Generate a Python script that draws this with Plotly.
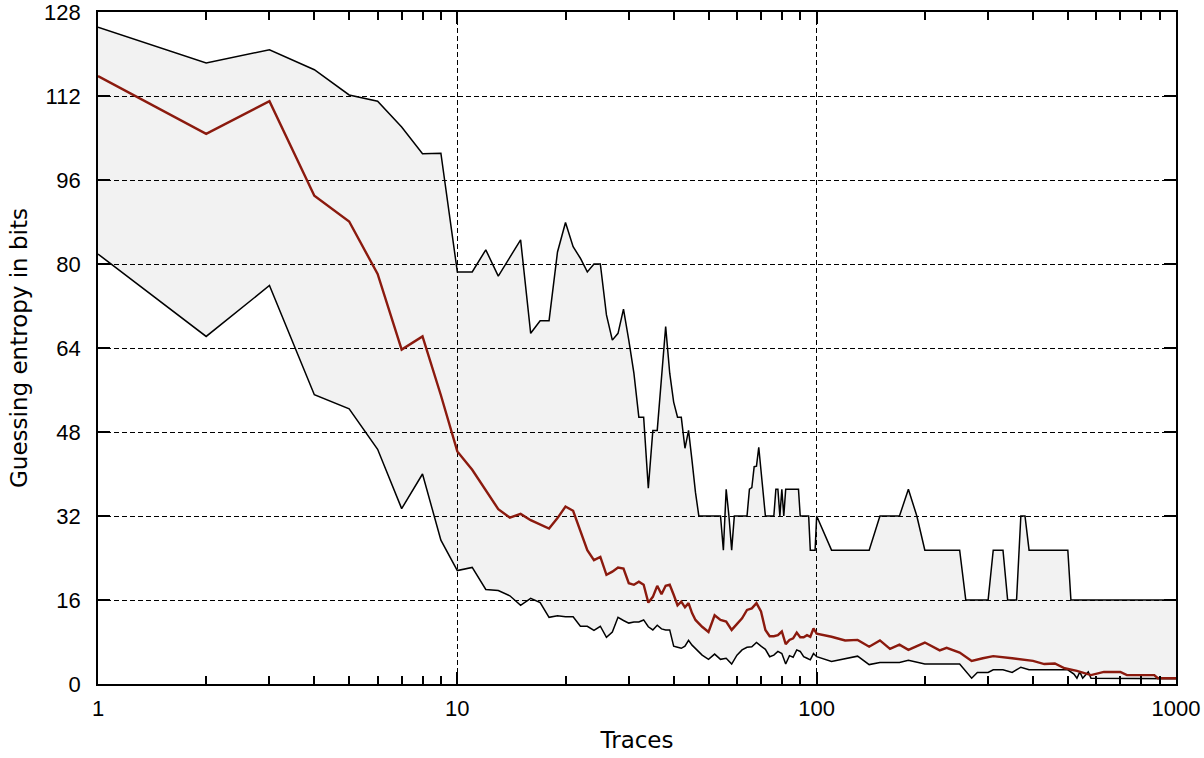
import plotly.graph_objects as go

# Guessing entropy (bits) vs. number of traces: upper bound, median, lower bound
upper_x = [1, 2, 3, 4, 5, 6, 7, 8, 9, 10, 11, 12, 13, 14, 15, 16, 17, 18, 19, 20,
           21, 22, 23, 24, 25, 26, 27, 28, 29, 30, 31, 32, 33, 34, 35, 36, 38, 39, 40, 41,
           42, 43, 44, 45, 46, 47, 54, 55, 56, 57, 58, 59, 64, 65, 66, 67, 68, 69, 70, 71,
           72, 76, 77, 78, 79, 80, 81, 82, 89, 90, 95, 96, 99, 100, 110, 140, 150, 170, 180, 190,
           200, 250, 260, 300, 310, 330, 340, 360, 370, 380, 390, 500, 510, 1000]
upper_y = [125.1, 118.3, 120.8, 117.0, 112.2, 111.0, 106.1, 101.0, 101.1, 78.5, 78.5, 82.7, 77.7, 81.3, 84.6, 66.8, 69.2, 69.2, 82.3, 87.9,
           83.3, 81.1, 78.5, 80.0, 80.0, 70.3, 65.5, 66.8, 71.4, 65.5, 59.2, 50.8, 50.8, 37.3, 48.3, 48.3, 68.1, 59.2, 53.7, 50.8,
           50.8, 44.9, 48.3, 42.5, 36.5, 32.0, 32.0, 25.5, 37.1, 32.0, 25.5, 32.0, 32.0, 37.1, 37.4, 41.4, 41.5, 45.1, 40.8, 35.7,
           32.0, 32.0, 37.1, 37.1, 32.0, 37.1, 32.0, 37.1, 37.1, 32.0, 32.0, 25.5, 25.5, 32.0, 25.5, 25.5, 32.0, 32.0, 37.1, 32.0,
           25.5, 25.5, 16.0, 16.0, 25.5, 25.5, 16.0, 16.0, 32.0, 32.0, 25.5, 25.5, 16.0, 16.0]

median_x = [1, 2, 3, 4, 5, 6, 7, 8, 9, 10, 11, 12, 13, 14, 15, 16, 17, 18, 19, 20,
            21, 22, 23, 24, 25, 26, 27, 28, 29, 30, 31, 32, 33, 34, 35, 36, 37, 38, 39, 40,
            41, 42, 43, 44, 45, 46, 48, 50, 52, 54, 56, 58, 60, 62, 64, 66, 68, 70, 72, 74,
            76, 78, 80, 82, 84, 86, 88, 90, 92, 94, 96, 98, 100, 110, 120, 130, 140, 150, 160, 170,
            180, 200, 220, 230, 250, 270, 290, 310, 350, 400, 430, 460, 490, 530, 580, 630, 700, 730, 870, 890,
            1000]
median_y = [115.8, 104.8, 111.0, 93.0, 88.1, 78.1, 63.7, 66.2, 55.0, 44.3, 40.8, 37.0, 33.3, 31.7, 32.4, 31.2, 30.3, 29.6, 31.6, 33.8,
            33.0, 29.0, 25.5, 23.6, 24.2, 20.8, 21.4, 22.2, 22.0, 19.2, 18.9, 19.5, 18.9, 15.5, 16.6, 18.7, 17.1, 18.7, 18.9, 17.0,
            15.0, 15.7, 14.6, 15.4, 13.5, 12.2, 10.9, 9.9, 13.1, 12.2, 11.9, 10.3, 11.5, 12.5, 14.1, 14.4, 15.4, 13.8, 10.3, 9.1,
            9.1, 9.3, 10.0, 7.6, 8.4, 8.7, 9.8, 8.9, 8.9, 9.3, 9.0, 10.6, 9.6, 9.0, 8.3, 8.4, 7.1, 8.3, 6.7, 7.5,
            6.5, 7.9, 6.4, 6.9, 6.0, 4.4, 4.9, 5.3, 4.9, 4.4, 3.8, 3.9, 3.0, 2.5, 1.7, 2.3, 2.3, 1.7, 1.7, 1.1,
            1.1]

lower_x = [1, 2, 3, 4, 5, 6, 7, 8, 9, 10, 11, 12, 13, 14, 15, 16, 17, 18, 19, 20,
           21, 22, 23, 24, 25, 26, 27, 28, 29, 30, 31, 32, 33, 34, 35, 36, 37, 38, 39, 40,
           41, 42, 43, 44, 45, 46, 48, 50, 52, 54, 56, 58, 60, 62, 64, 66, 68, 70, 72, 74,
           76, 78, 80, 82, 84, 86, 88, 90, 92, 94, 96, 98, 100, 110, 130, 140, 150, 170, 180, 200,
           250, 270, 280, 300, 310, 330, 350, 370, 390, 500, 520, 530, 540, 550, 570, 580, 1000]
lower_y = [81.9, 66.2, 75.9, 55.1, 52.4, 44.7, 33.4, 40.0, 27.4, 21.6, 22.2, 18.0, 17.8, 16.8, 15.0, 16.3, 15.5, 12.7, 13.0, 12.8,
           12.8, 11.0, 11.0, 10.2, 11.0, 8.9, 9.9, 12.7, 12.1, 11.6, 11.8, 11.8, 12.2, 10.9, 10.3, 11.2, 10.5, 10.3, 10.3, 7.2,
           7.0, 6.8, 7.2, 8.3, 7.4, 6.8, 5.5, 4.7, 5.7, 4.7, 4.9, 3.8, 5.5, 6.5, 7.0, 7.1, 7.9, 7.2, 6.6, 5.2,
           5.5, 6.2, 5.8, 3.8, 5.4, 5.1, 6.5, 6.2, 5.2, 4.9, 4.6, 5.8, 5.2, 4.3, 5.3, 3.7, 4.1, 4.1, 4.5, 3.8,
           3.8, 1.1, 2.2, 2.2, 2.7, 2.7, 2.2, 3.2, 2.7, 2.7, 1.9, 1.1, 2.3, 1.1, 2.3, 1.1, 1.0]

x_ticks = [1, 10, 100, 1000]
x_minor = [m * d for d in (1, 10, 100) for m in range(2, 10)]
y_ticks = list(range(0, 129, 16))

DARK_RED = "#8b1a0e"

fig = go.Figure()

# shaded band between the upper and lower bounds
fig.add_trace(go.Scatter(
    x=upper_x + lower_x[::-1],
    y=upper_y + lower_y[::-1],
    fill="toself", fillcolor="rgba(0,0,0,0.05)",
    line=dict(width=0), mode="lines", hoverinfo="skip", showlegend=False,
))
fig.add_trace(go.Scatter(x=upper_x, y=upper_y, mode="lines",
                         line=dict(color="black", width=1.5), showlegend=False))
fig.add_trace(go.Scatter(x=lower_x, y=lower_y, mode="lines",
                         line=dict(color="black", width=1.5), showlegend=False))
# the median is placed on the top log axis (same range) so that axis gets drawn
fig.add_trace(go.Scatter(x=median_x, y=median_y, mode="lines", xaxis="x2",
                         line=dict(color=DARK_RED, width=2.4), showlegend=False))

tick_font = dict(family="Liberation Sans, Arial, sans-serif", size=22, color="black")
title_font = dict(family="DejaVu Sans, sans-serif", size=23, color="black")

fig.update_layout(
    width=1204, height=758,
    margin=dict(l=98, r=28, t=12, b=74),
    plot_bgcolor="white", paper_bgcolor="white",
    xaxis=dict(
        type="log", range=[0, 3], automargin=False, ticklabeloverflow="allow",
        tickmode="array", tickvals=x_ticks, ticktext=[str(v) for v in x_ticks],
        ticks="inside", ticklen=12, tickwidth=2, tickcolor="black",
        showline=True, linecolor="black", linewidth=1.8, mirror=True,
        showgrid=True, gridcolor="black", gridwidth=1, griddash="5px,3px",
        zeroline=False, tickfont=tick_font, ticklabelstandoff=4,
        minor=dict(tickvals=x_minor, ticks="inside", ticklen=8, tickwidth=2,
                   tickcolor="black", showgrid=False),
        title=dict(text="Traces", font=title_font, standoff=12),
    ),
    # top axis: tick marks only (blank labels)
    xaxis2=dict(
        type="log", range=[0, 3], overlaying="x", side="top", automargin=False,
        anchor="y", tickmode="array", tickvals=x_ticks, ticktext=["", "", "", ""],
        showticklabels=True, tickfont=dict(size=10),
        ticks="inside", ticklen=12, tickwidth=2, tickcolor="black",
        showline=False, showgrid=False, zeroline=False,
        minor=dict(tickvals=x_minor, ticks="inside", ticklen=8, tickwidth=2,
                   tickcolor="black", showgrid=False),
    ),
    yaxis=dict(
        range=[0, 128], automargin=False, ticklabeloverflow="allow",
        tickmode="array", tickvals=y_ticks,
        ticks="inside", ticklen=12, tickwidth=2, tickcolor="black",
        showline=True, linecolor="black", linewidth=1.8, mirror="ticks",
        showgrid=True, gridcolor="black", gridwidth=1, griddash="5px,3px",
        zeroline=False, tickfont=tick_font, ticklabelstandoff=11,
        title=dict(text="Guessing entropy in bits", font=title_font, standoff=10),
    ),
)

fig.write_html("out.html")
